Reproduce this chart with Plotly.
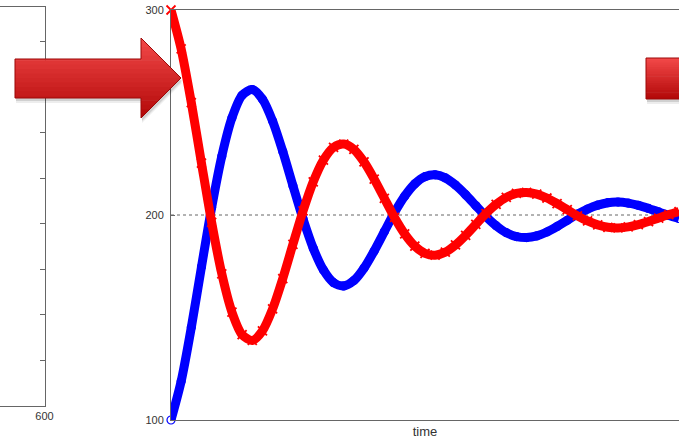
import plotly.graph_objects as go

# ---------------- data ----------------
time = [0, 2, 4, 6, 8, 10, 12, 14, 16, 18, 20, 22, 24, 26, 28, 30, 32, 34, 36, 38,
        40, 42, 44, 46, 48, 50, 52, 54, 56, 58, 60, 62, 64, 66, 68, 70, 72, 74, 76, 78,
        80, 82, 84, 86, 88, 90, 92, 94, 96, 98, 100]
blue_series = [100.0, 118.9, 145.2, 174.7, 203.6, 228.7, 247.4, 258.4, 261.2, 256.5,
               245.8, 231.0, 214.3, 198.0, 183.8, 173.2, 167.0, 165.4, 168.0, 174.1,
               182.5, 191.9, 201.2, 209.2, 215.2, 218.7, 219.6, 218.1, 214.6, 209.9,
               204.6, 199.3, 194.8, 191.4, 189.5, 189.0, 189.8, 191.7, 194.4, 197.4,
               200.4, 202.9, 204.8, 206.0, 206.3, 205.8, 204.7, 203.2, 201.5, 199.8, 198.3]
red_series = [300.0, 281.0, 254.8, 225.3, 196.4, 171.3, 152.6, 141.6, 138.8, 143.5,
              154.2, 169.0, 185.7, 202.0, 216.2, 226.8, 233.0, 234.6, 232.0, 225.9,
              217.5, 208.1, 198.8, 190.8, 184.8, 181.3, 180.4, 181.9, 185.4, 190.1,
              195.4, 200.7, 205.2, 208.6, 210.5, 211.0, 210.2, 208.3, 205.6, 202.6,
              199.6, 197.1, 195.2, 194.0, 193.7, 194.2, 195.3, 196.8, 198.5, 200.2, 201.7]
y_ticks = [100, 200, 300]
equilibrium = 200
left_x_ticks = [600]
left_y_ticks = [0, 1, 2, 3, 4, 5, 6, 7, 8]

W, H = 679, 443
FONT = "Liberation Sans, Arial, Helvetica, sans-serif"
AXC = "#666666"


def px(x):
    return x / W


def py(y):
    return 1 - y / H


fig = go.Figure()

fig.add_trace(go.Scatter(
    x=time, y=blue_series, mode="lines+markers", cliponaxis=False,
    line=dict(color="#0000ff", width=9, shape="spline", smoothing=0.8),
    marker=dict(symbol="circle-open", size=8, color="#0000ff", line=dict(width=1.2)),
    showlegend=False, xaxis="x", yaxis="y"))
fig.add_trace(go.Scatter(
    x=time, y=red_series, mode="lines+markers", cliponaxis=False,
    line=dict(color="#ff0000", width=9, shape="spline", smoothing=0.8),
    marker=dict(symbol="x-thin", size=9, color="#ff0000", line=dict(width=1.8, color="#ff0000")),
    showlegend=False, xaxis="x", yaxis="y"))
fig.add_trace(go.Scatter(x=[], y=[], xaxis="x2", yaxis="y2", showlegend=False))

shapes = []
shapes.append(dict(type="line", xref="x", yref="y", x0=time[0], x1=time[-1],
                   y0=equilibrium, y1=equilibrium, layer="below",
                   line=dict(color="#666666", width=1, dash="dot")))


def clip_slab(poly, ya, yb):
    def clip_edge(pts, inside, inter):
        out = []
        for i in range(len(pts)):
            cur, prev = pts[i], pts[i - 1]
            if inside(cur):
                if not inside(prev):
                    out.append(inter(prev, cur))
                out.append(cur)
            elif inside(prev):
                out.append(inter(prev, cur))
        return out

    def inter_at(yc):
        def f(p, q):
            t = (yc - p[1]) / (q[1] - p[1])
            return (p[0] + t * (q[0] - p[0]), yc)
        return f

    pts = clip_edge(poly, lambda p: p[1] >= ya, inter_at(ya))
    if not pts:
        return pts
    pts = clip_edge(pts, lambda p: p[1] <= yb, inter_at(yb))
    return pts


def path_of(pts, dx=0, dy=0):
    s = "M " + " L ".join(f"{px(x + dx):.5f},{py(y + dy):.5f}" for x, y in pts)
    return s + " Z"


def add_arrow(poly):
    ys = [p[1] for p in poly]
    y0, y1 = min(ys), max(ys)
    shapes.append(dict(type="path", xref="paper", yref="paper", path=path_of(poly, 1, 5),
                       fillcolor="rgba(0,0,0,0.07)", line=dict(width=0), layer="above"))
    shapes.append(dict(type="path", xref="paper", yref="paper", path=path_of(poly, 1, 3),
                       fillcolor="rgba(0,0,0,0.12)", line=dict(width=0), layer="above"))
    n = 18
    top = (244, 74, 74)
    bot = (178, 8, 8)
    for i in range(n):
        ya = y0 + (y1 - y0) * i / n
        yb = y0 + (y1 - y0) * (i + 1) / n + 0.6
        pts = clip_slab(poly, ya, yb)
        if len(pts) < 3:
            continue
        f = (i + 0.5) / n
        c = tuple(int(top[k] + (bot[k] - top[k]) * f) for k in range(3))
        shapes.append(dict(type="path", xref="paper", yref="paper", path=path_of(pts),
                           fillcolor=f"rgb{c}", line=dict(width=0), layer="above"))
    shapes.append(dict(type="path", xref="paper", yref="paper", path=path_of(poly),
                       fillcolor="rgba(0,0,0,0)", line=dict(color="#9c0808", width=1),
                       layer="above"))


add_arrow([(15, 59), (141, 59), (141, 38), (181, 78), (141, 118), (141, 98), (15, 98)])
add_arrow([(646, 58), (720, 58), (720, 99), (646, 99)])

fig.update_layout(
    width=W, height=H, autosize=False,
    margin=dict(l=0, r=0, t=0, b=0, pad=0, autoexpand=False),
    paper_bgcolor="white", plot_bgcolor="white",
    font=dict(family=FONT, size=11, color="#333333"),
    showlegend=False,
    shapes=shapes,
    xaxis=dict(domain=[px(171), 1], range=[0, 100], anchor="y", automargin=False,
               showline=True, linecolor=AXC, linewidth=1, mirror=True,
               showgrid=False, zeroline=False, ticks="", showticklabels=False,
               title=dict(text="time", font=dict(size=13, color="#333333"), standoff=6)),
    yaxis=dict(domain=[py(420), py(10)], range=[100, 300], anchor="x", automargin=False,
               tickvals=y_ticks, ticktext=[str(v) for v in y_ticks],
               showline=True, linecolor=AXC, linewidth=1, mirror=False,
               showgrid=False, zeroline=False, ticks="inside", ticklen=4,
               tickcolor=AXC, ticklabelstandoff=4,
               tickfont=dict(size=11, color="#333333")),
    xaxis2=dict(domain=[0, px(44.5)], range=[560, 600], anchor="y2", automargin=False,
                tickvals=left_x_ticks, ticktext=[str(v) for v in left_x_ticks],
                showline=True, linecolor=AXC, linewidth=1, mirror=True,
                showgrid=False, zeroline=False, ticks="",
                tickfont=dict(size=11, color="#333333")),
    yaxis2=dict(domain=[py(406), py(7)], range=[0, 8.75], anchor="x2", side="right",
                automargin=False, tickvals=left_y_ticks, showticklabels=False,
                showline=True, linecolor=AXC, linewidth=1, mirror=False,
                showgrid=False, zeroline=False, ticks="inside", ticklen=5,
                tickcolor=AXC),
)

fig.write_html("out.html")
